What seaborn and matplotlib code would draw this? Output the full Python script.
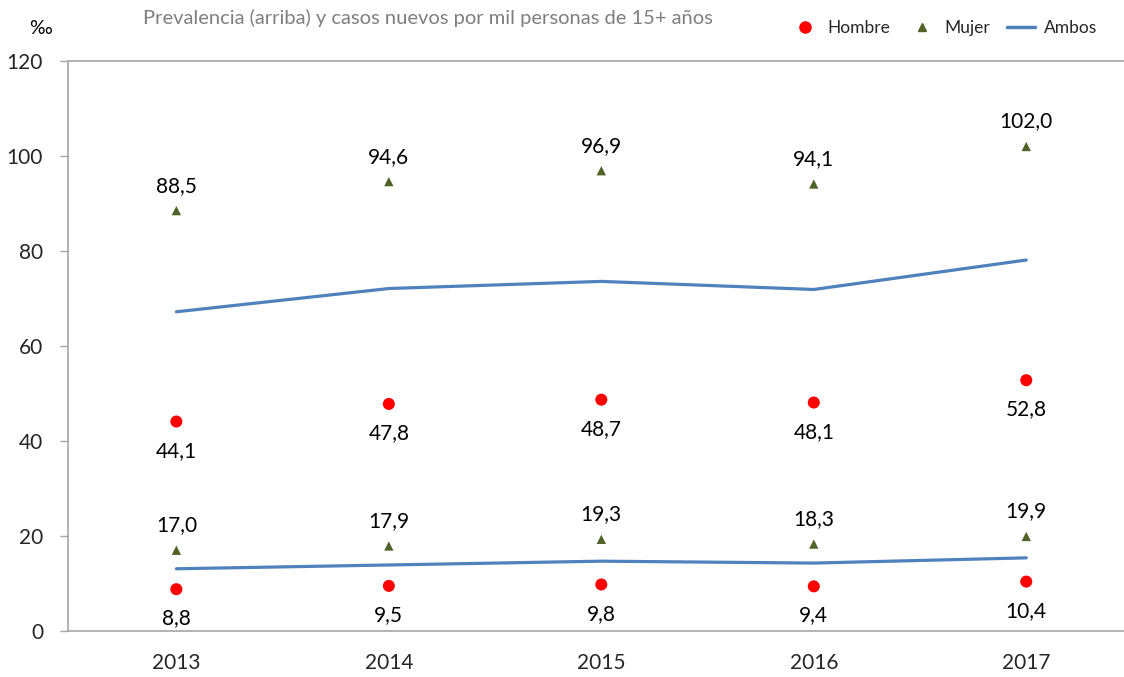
import numpy as np
import pandas as pd
import matplotlib
matplotlib.use("Agg")
import matplotlib.pyplot as plt
import seaborn as sns
from matplotlib.lines import Line2D

years = ["2013", "2014", "2015", "2016", "2017"]

# prevalencia (arriba)
hombre_prev = [44.1, 47.8, 48.7, 48.1, 52.8]
mujer_prev = [88.5, 94.6, 96.9, 94.1, 102.0]
ambos_prev = [67.2, 72.1, 73.6, 71.9, 78.1]

# casos nuevos (abajo)
hombre_new = [8.8, 9.5, 9.8, 9.4, 10.4]
mujer_new = [17.0, 17.9, 19.3, 18.3, 19.9]
ambos_new = [13.1, 13.9, 14.7, 14.3, 15.4]

sns.set_style("white")
plt.rcParams["font.family"] = ["Lato", "DejaVu Sans"]

red = "#ff0000"
green = "#4f6228"
blue = "#4f81bd"
grey = "#a6a6a6"

fig = plt.figure(figsize=(11.24, 6.77), dpi=100)
ax = fig.add_axes([68 / 1124, 46 / 677, 1056 / 1124, 570 / 677])

x = np.arange(len(years))
for amb in (ambos_prev, ambos_new):
    sns.lineplot(x=x, y=amb, ax=ax, color=blue, linewidth=2.3, legend=False)
for hom in (hombre_prev, hombre_new):
    sns.scatterplot(x=x, y=hom, ax=ax, color=red, s=75, marker="o", edgecolor="none", legend=False)
for muj in (mujer_prev, mujer_new):
    sns.scatterplot(x=x, y=muj, ax=ax, color=green, s=45, marker="^", edgecolor="none", legend=False)

def lab(v):
    return f"{v:.1f}".replace(".", ",")

for vals in (mujer_prev, mujer_new):
    for i, v in enumerate(vals):
        ax.annotate(lab(v), (i, v), xytext=(0, 18), textcoords="offset points",
                    ha="center", va="center", fontsize=15, color="black")
for vals in (hombre_prev, hombre_new):
    for i, v in enumerate(vals):
        ax.annotate(lab(v), (i, v), xytext=(0, -21), textcoords="offset points",
                    ha="center", va="center", fontsize=15, color="black")

ax.set_xlim(-0.51, 4.46)
ax.set_ylim(0, 120)
ax.set_yticks(range(0, 121, 20))
ax.set_xticks(x)
ax.set_xticklabels(years)
ax.tick_params(axis="y", length=6, width=1, color=grey, labelsize=15, pad=12, left=True)
ax.tick_params(axis="x", length=0, labelsize=15, pad=16)
for s in ("left", "bottom", "top"):
    ax.spines[s].set_color(grey)
    ax.spines[s].set_linewidth(1.2)
ax.spines["right"].set_visible(False)

fig.text(428 / 1124, 1 - 18 / 677, "Prevalencia (arriba) y casos nuevos por mil personas de 15+ años",
         ha="center", va="center", fontsize=14.5, color="#7f7f7f")
fig.text(40 / 1124, 1 - 29 / 677, "‰", ha="center", va="center", fontsize=14, color="black")

handles = [
    Line2D([], [], color=red, marker="o", linestyle="none", markersize=8),
    Line2D([], [], color=green, marker="^", linestyle="none", markersize=6),
    Line2D([], [], color=blue, linewidth=2.5),
]
fig.legend(handles, ["Hombre", "Mujer", "Ambos"], loc="center", bbox_to_anchor=(944 / 1124, 1 - 28 / 677),
           ncol=3, frameon=False, fontsize=12.5, handlelength=1.6, handletextpad=0.5, columnspacing=1.0)

fig.savefig("out.png", dpi=100)
